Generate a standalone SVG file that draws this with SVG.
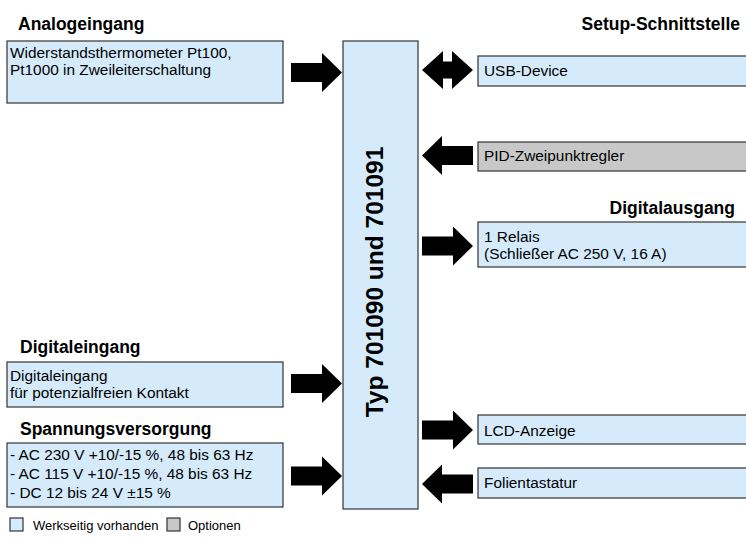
<svg xmlns="http://www.w3.org/2000/svg" xmlns:xlink="http://www.w3.org/1999/xlink" width="746" height="538" viewBox="0 0 746 538">
  <style>
    .std { fill: #d5ebfb; stroke: #333; stroke-width: 1.2; }
    .opt { fill: #c8c8c8; stroke: #333; stroke-width: 1.2; }
    .head { font-family: "Liberation Sans", Arial, sans-serif; font-size: 17.5px; font-weight: bold; fill: #000; }
    .body { font-family: "Liberation Sans", Arial, sans-serif; font-size: 15.4px; fill: #000; }
    .legend { font-family: "Liberation Sans", Arial, sans-serif; font-size: 13px; fill: #000; }
    .title { font-family: "Liberation Sans", Arial, sans-serif; font-size: 24.5px; font-weight: bold; fill: #000; }
    .arrow { fill: #000; }
  </style>
  <defs>
    <!-- block arrows, origin at the tail centre -->
    <path id="arrowRight" d="M0,-9.5 H31 V-19.5 L51,0 L31,19.5 V9.5 H0 Z"/>
    <path id="arrowLeft" d="M51,-9.5 H20 V-19.5 L0,0 L20,19.5 V9.5 H51 Z"/>
    <path id="arrowBoth" d="M0,0 L21,-19 V-8.5 H30 V-19 L51,0 L30,19 V8.5 H21 V19 Z"/>
  </defs>

  <!-- section headings -->
  <text class="head" x="18" y="30">Analogeingang</text>
  <text class="head" x="740" y="30" text-anchor="end">Setup-Schnittstelle</text>
  <text class="head" x="735" y="214" text-anchor="end">Digitalausgang</text>
  <text class="head" x="20" y="353">Digitaleingang</text>
  <text class="head" x="20" y="435">Spannungsversorgung</text>

  <!-- device -->
  <g id="device">
    <rect class="std" x="343" y="41" width="75" height="468"/>
    <text class="title" transform="translate(383,282) rotate(-90)" text-anchor="middle">Typ 701090 und 701091</text>
  </g>

  <!-- inputs -->
  <g id="analog-input">
    <rect class="std" x="7" y="41" width="276" height="62"/>
    <text class="body" x="10" y="58">Widerstandsthermometer Pt100,</text>
    <text class="body" x="10" y="75">Pt1000 in Zweileiterschaltung</text>
  </g>
  <g id="digital-input">
    <rect class="std" x="7" y="362" width="276" height="45"/>
    <text class="body" x="10" y="381">Digitaleingang</text>
    <text class="body" x="10" y="398">für potenzialfreien Kontakt</text>
  </g>
  <g id="power-supply">
    <rect class="std" x="7" y="443" width="276" height="64"/>
    <text class="body" x="10" y="460">- AC 230 V +10/-15 %, 48 bis 63 Hz</text>
    <text class="body" x="10" y="479">- AC 115 V +10/-15 %, 48 bis 63 Hz</text>
    <text class="body" x="10" y="498">- DC 12 bis 24 V ±15 %</text>
  </g>

  <!-- interfaces and outputs -->
  <g id="usb-device">
    <rect class="std" x="478" y="56" width="280" height="30"/>
    <text class="body" x="484" y="76">USB-Device</text>
  </g>
  <g id="pid-controller">
    <rect class="opt" x="478" y="142" width="280" height="29"/>
    <text class="body" x="484" y="161">PID-Zweipunktregler</text>
  </g>
  <g id="relay-output">
    <rect class="std" x="478" y="222" width="280" height="45"/>
    <text class="body" x="484" y="242">1 Relais</text>
    <text class="body" x="484" y="259">(Schließer AC 250 V, 16 A)</text>
  </g>
  <g id="lcd-display">
    <rect class="std" x="478" y="415" width="280" height="29"/>
    <text class="body" x="484" y="436">LCD-Anzeige</text>
  </g>
  <g id="keypad">
    <rect class="std" x="478" y="468" width="280" height="30"/>
    <text class="body" x="484" y="488">Folientastatur</text>
  </g>

  <!-- connectors -->
  <g id="connectors" class="arrow">
    <use xlink:href="#arrowRight" x="291" y="72.5"/>
    <use xlink:href="#arrowRight" x="291" y="383.5"/>
    <use xlink:href="#arrowRight" x="291" y="476"/>
    <use xlink:href="#arrowBoth" x="422" y="70"/>
    <use xlink:href="#arrowLeft" x="422" y="155.5"/>
    <use xlink:href="#arrowRight" x="422" y="246"/>
    <use xlink:href="#arrowRight" x="422" y="430"/>
    <use xlink:href="#arrowLeft" x="422" y="484"/>
  </g>

  <!-- legend -->
  <g id="legend">
    <rect class="std" x="10" y="518" width="13" height="13"/>
    <text class="legend" x="33" y="530">Werkseitig vorhanden</text>
    <rect class="opt" x="167" y="518" width="13" height="13"/>
    <text class="legend" x="188" y="530">Optionen</text>
  </g>
</svg>
